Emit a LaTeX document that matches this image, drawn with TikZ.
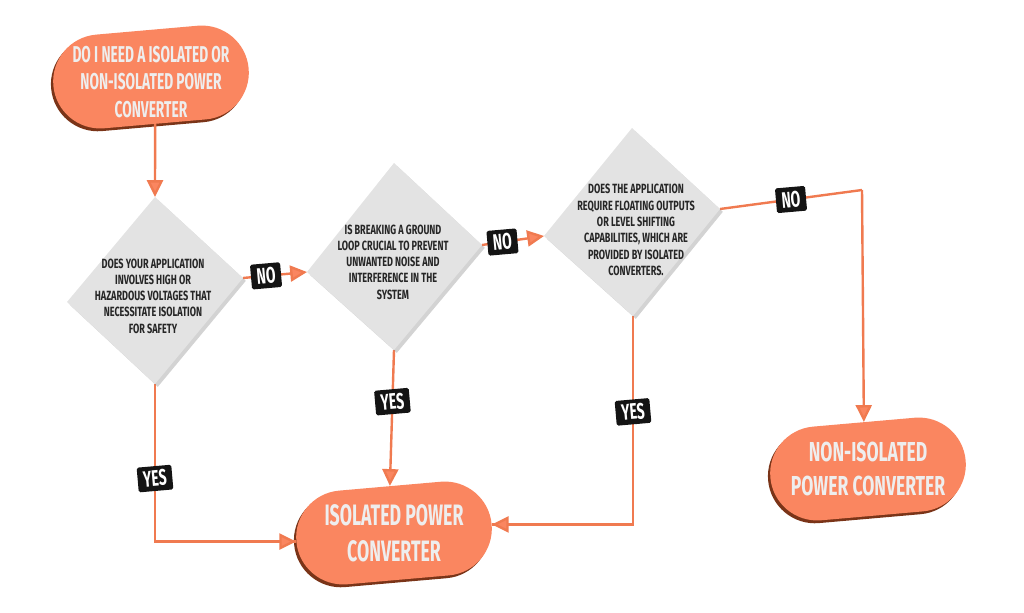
\documentclass[tikz,border=0pt]{standalone}
\usepackage{fontspec}
\newfontfamily\condd[FakeStretch=0.68]{Fira Sans}
\newfontfamily\conds[FakeStretch=0.6]{Fira Sans}
\newfontfamily\condl[FakeStretch=0.62]{Fira Sans}
\newfontfamily\condn[FakeStretch=0.64]{Fira Sans}
\usetikzlibrary{shapes.misc,arrows.meta,shadows}
\definecolor{coral}{HTML}{FA8660}
\definecolor{coraldark}{HTML}{7A3418}
\definecolor{linec}{HTML}{F07A50}
\definecolor{dgray}{HTML}{E3E3E3}
\definecolor{ptext}{HTML}{EEEEEE}
\tikzset{
  pill/.style={rounded rectangle, fill=coral, rotate=5,
    inner sep=0pt, minimum width=4.9cm, minimum height=2.35cm,
    general shadow={fill=coraldark, shadow xshift=-1.6pt, shadow yshift=-2pt}},
  ptxt/.style={text=ptext, align=center, inner sep=0pt},
  dia/.style={fill=dgray, drop shadow={shadow xshift=2pt, shadow yshift=-2pt, opacity=.35}},
  dtext/.style={text=black!85, align=center, inner sep=0pt,
    font=\condd\bfseries\fontsize{9.5}{11.6}\selectfont},
  lbl/.style={fill=black!92, text=white, rounded corners=1.2pt, rotate=5,
    inner xsep=4pt, inner ysep=3pt, font=\condl\bfseries\fontsize{16}{16}\selectfont},
  conn/.style={draw=linec, line width=0.06cm},
  arr/.style={-{Triangle[length=0.42cm,width=0.4cm,fill=coral]}}
}
\begin{document}
\begin{tikzpicture}[x=0.025cm,y=-0.025cm]
\useasboundingbox (0,0) rectangle (1024,612);
% diamonds corners
\coordinate (d1t) at (155,197); \coordinate (d1l) at (67,302);
\coordinate (d1r) at (243,278); \coordinate (d1b) at (155,384);
\coordinate (d2t) at (394,163); \coordinate (d2l) at (307,272);
\coordinate (d2r) at (482,245); \coordinate (d2b) at (394,350);
\coordinate (d3t) at (632,128); \coordinate (d3l) at (544,236);
\coordinate (d3r) at (720,209); \coordinate (d3b) at (633,316);
\coordinate (c1) at (862,190);
% terminals
\node[pill] (s) at (151,77) {};
\node[ptxt, font=\conds\bfseries\fontsize{16.3}{19.8}\selectfont] (st) at ([yshift=-3.5pt]s.center)
  {DO I NEED A ISOLATED OR\\NON-ISOLATED POWER\\CONVERTER};
\node[pill] (iso) at (394,533) {};
\node[ptxt, font=\conds\bfseries\fontsize{21}{25.6}\selectfont] (isot) at (iso.center)
  {ISOLATED POWER\\CONVERTER};
\node[pill] (non) at (868,469) {};
\node[ptxt, font=\condn\bfseries\fontsize{19.5}{23.8}\selectfont] (nont) at (non.center)
  {NON-ISOLATED\\POWER CONVERTER};
% connectors
\draw[conn, arr] (s.south) -- (d1t);
\draw[conn] (d1b) |- node[lbl, pos=.3] {YES} (iso.west);
\draw[conn, arr] (d1b |- iso.west) -- (iso.west);
\draw[conn, arr] (d2b) -- node[lbl, pos=.38] {YES} (iso.north);
\draw[conn] (d3b) |- node[lbl, pos=.23] {YES} (iso.east);
\draw[conn, arr] (d3b |- iso.east) -- (iso.east);
\draw[conn, arr] (d1r) -- node[lbl, pos=.36] {NO} (d2l);
\draw[conn, arr] (d2r) -- node[lbl, pos=.33] {NO} (d3l);
\draw[conn] (d3r) -- node[lbl, pos=.5] {NO} (c1);
\draw[conn, arr] (c1) -- (non.north);
% diamonds
\path[dia] (d1t) -- (d1r) -- (d1b) -- (d1l) -- cycle;
\path[dia] (d2t) -- (d2r) -- (d2b) -- (d2l) -- cycle;
\path[dia] (d3t) -- (d3r) -- (d3b) -- (d3l) -- cycle;
\node[dtext] (q1) at (153,296) {DOES YOUR APPLICATION\\INVOLVES HIGH OR\\HAZARDOUS VOLTAGES THAT\\NECESSITATE ISOLATION\\FOR SAFETY};
\node[dtext] (q2) at (393,262) {IS BREAKING A GROUND\\LOOP CRUCIAL TO PREVENT\\UNWANTED NOISE AND\\INTERFERENCE IN THE\\SYSTEM};
\node[dtext] (q3) at (636,230) {DOES THE APPLICATION\\REQUIRE FLOATING OUTPUTS\\OR LEVEL SHIFTING\\CAPABILITIES, WHICH ARE\\PROVIDED BY ISOLATED\\CONVERTERS.};
\end{tikzpicture}
\end{document}
